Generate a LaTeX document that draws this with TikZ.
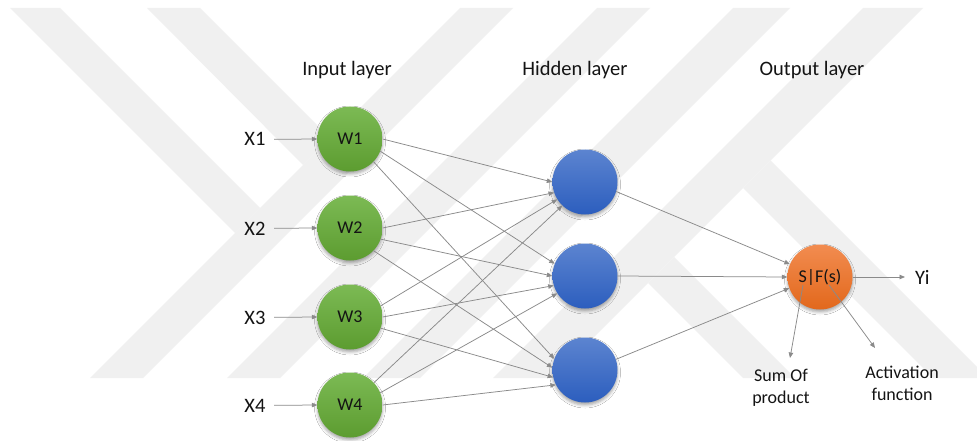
\documentclass[tikz,border=0pt]{standalone}
\usepackage{fontspec}
\setmainfont{Carlito}
\usetikzlibrary{arrows.meta,shadows.blur,calc}
\definecolor{wm}{RGB}{240,240,240}
\definecolor{gtop}{RGB}{124,186,84}
\definecolor{gbot}{RGB}{92,156,48}
\definecolor{btop}{RGB}{92,132,208}
\definecolor{bbot}{RGB}{44,94,190}
\definecolor{otop}{RGB}{242,140,80}
\definecolor{obot}{RGB}{226,104,28}
\definecolor{lc}{RGB}{138,138,138}
\definecolor{txt}{RGB}{20,20,20}
\tikzset{
  neuron/.style={circle, minimum size=65pt, inner sep=0pt, shading=axis,
    font=\fontsize{18}{20}\selectfont, text=txt,
    blur shadow={shadow xshift=0pt, shadow yshift=-2.5pt, shadow blur radius=3pt, shadow opacity=35}},
  wnode/.style={neuron, top color=gtop, bottom color=gbot},
  hnode/.style={neuron, top color=btop, bottom color=bbot},
  onode/.style={neuron, top color=otop, bottom color=obot},
  head/.style={font=\fontsize{20.5}{24}\selectfont, text=txt, inner sep=0pt, anchor=base},
  xlab/.style={font=\fontsize{20.5}{24}\selectfont, text=txt, inner sep=0pt, anchor=base},
  small/.style={font=\fontsize{18}{22}\selectfont, text=txt, inner sep=0pt, align=center, anchor=north},
  arr/.style={draw=lc, line width=0.75pt, -{Triangle[length=5.5pt,width=4.5pt]}, color=lc}
}
\begin{document}
\begin{tikzpicture}[x=1pt,y=-1pt]
\useasboundingbox (0,0) rectangle (977,441);
\fill[white] (0,0) rectangle (977,441);
% watermark
\begin{scope}
\clip (0,8) rectangle (977,378);
\fill[wm] (90,378) -- (143,378) -- (513,8) -- (460,8) -- cycle;
\fill[wm] (227,378) -- (280,378) -- (650,8) -- (597,8) -- cycle;
\fill[wm] (10,8) -- (60,8) -- (260,208) -- (235,233) -- cycle;
\fill[wm] (147,8) -- (200,8) -- (330,138) -- (303,165) -- cycle;
\fill[wm] (363,378) -- (420,378) -- (790,8) -- (733,8) -- cycle;
\fill[wm] (493,378) -- (553,378) -- (923,8) -- (863,8) -- cycle;
\fill[wm] (770.5,160.5) -- (988,378) -- (933,378) -- (743,188) -- cycle;
\fill[wm] (674,257) -- (795,378) -- (743,378) -- (648,283) -- cycle;
\end{scope}
% headings
\node[head] (hin) at (347,76) {Input layer};
\node[head] (hhid) at (575,76) {Hidden layer};
\node[head] (hout) at (812,76) {Output layer};
% input labels
\node[xlab] (x1) at (255,146) {X1};
\node[xlab] (x2) at (255,235) {X2};
\node[xlab] (x3) at (255,324) {X3};
\node[xlab] (x4) at (255,412) {X4};
% nodes
\node[wnode] (w1) at (350,139) {W1};
\node[wnode] (w2) at (350,228) {W2};
\node[wnode] (w3) at (350,317) {W3};
\node[wnode] (w4) at (350,405) {W4};
\node[hnode] (h1) at (585,182) {};
\node[hnode] (h2) at (585,276) {};
\node[hnode] (h3) at (585,370) {};
\node[onode] (o) at (820,277) {S|F(s)};
\node[xlab, anchor=west] (yi) at (915,277) {Yi};
\node[small] (sum) at (781,368.5) {Sum Of\\product};
\node[small] (act) at (902,365.5) {Activation\\function};
\coordinate (sumtip) at (790,358);
\coordinate (acttip) at (875,348);
% input arrows
\foreach \i in {1,2,3,4}{
  \draw[arr, shorten <=8.5pt] (x\i.east) -- (w\i.west);
}
% input -> hidden
\draw[arr] (w1.0) -- (h1.180);
\draw[arr] (w1.-22) -- (h2.158);
\draw[arr] (w1.-44) -- (h3.160);
\draw[arr] (w2.0) -- (h1.199);
\draw[arr] (w2.-20) -- (h2.180);
\draw[arr] (w2.-44) -- (h3.176);
\draw[arr] (w3.20) -- (h1.212);
\draw[arr] (w3.0) -- (h2.197);
\draw[arr] (w3.-20) -- (h3.193);
\draw[arr] (w4.43) -- (h1.226);
\draw[arr] (w4.22) -- (h2.212);
\draw[arr] (w4.0) -- (h3.207);
% hidden -> output
\draw[arr] (h1.-17) -- (o.157);
\draw[arr] (h2.0) -- (o.180);
\draw[arr] (h3.19) -- (o.200);
% output
\draw[arr, shorten >=10pt] (o.east) -- (yi.west);
\draw[arr] ([shift={(-17pt,-8pt)}]o.center) -- (sumtip);
\draw[arr] ([shift={(9pt,-8pt)}]o.center) -- (acttip);
\end{tikzpicture}
\end{document}
